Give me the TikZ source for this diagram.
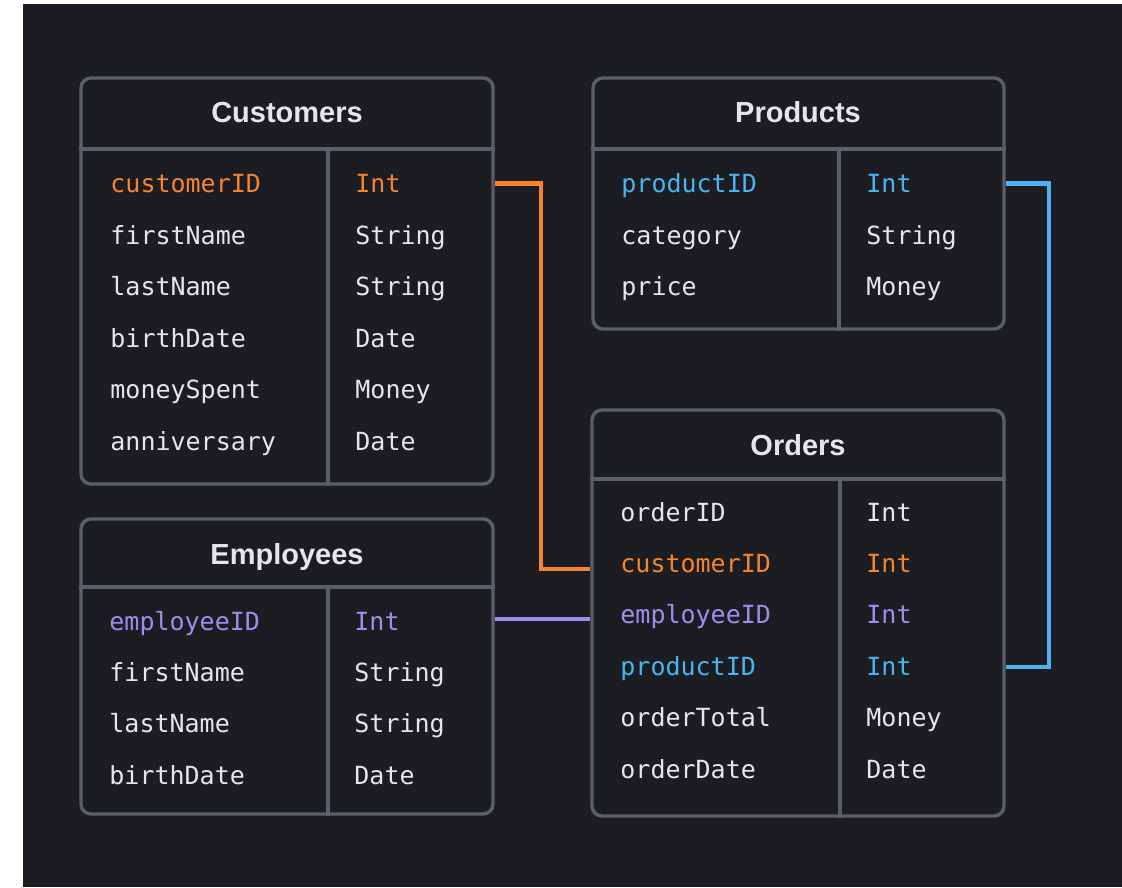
\documentclass[tikz,border=0pt]{standalone}
\usepackage{fontspec}
\setmainfont{Liberation Sans}
\setmonofont{DejaVu Sans Mono}
\usepackage{xcolor}

\definecolor{bgdark}{HTML}{1C1D22}
\definecolor{edge}{HTML}{5B5F67}
\definecolor{txt}{HTML}{E6E6E8}
\definecolor{keyorange}{HTML}{F5842D}
\definecolor{keyblue}{HTML}{4BB4EE}
\definecolor{keypurple}{HTML}{A08CEE}

\begin{document}
\begin{tikzpicture}[x=0.5pt, y=-0.5pt,
  tables/.style={draw=edge, line width=1.7pt, rounded corners=5pt, inner sep=0pt},
  rules/.style={draw=edge, line width=1.7pt},
  heads/.style={anchor=base, inner sep=0pt, text=txt, font=\fontsize{14.5}{16}\selectfont\bfseries},
  fields/.style={anchor=base west, inner sep=0pt, font=\fontsize{12.5}{14}\selectfont\ttfamily},
  links/.style={line width=2.4pt}]

 \useasboundingbox (0,0) rectangle (1122,887);
 \fill[bgdark] (23,4) rectangle (1122,887);

 % tables
 \node[tables, minimum width=206pt, minimum height=203pt] (customers) at (287,281) {};
 \node[tables, minimum width=205.5pt, minimum height=125.5pt] (products) at (798.5,203.5) {};
 \node[tables, minimum width=206pt, minimum height=203pt] (orders) at (798,613) {};
 \node[tables, minimum width=206pt, minimum height=147.5pt] (employees) at (287,666.5) {};

 \foreach \t/\hy/\cx in {customers/149/328, products/149/839, orders/479/840, employees/587/328} {
   \draw[rules] (\t.west |- 0,\hy) -- (\t.east |- 0,\hy);
   \draw[rules] (\cx,\hy) -- (\t.south -| \cx,0);
 }

 \node[heads] (cust-head) at (287,123) {Customers};
 \node[heads] (prod-head) at (798,123) {Products};
 \node[heads] (ord-head) at (798,455) {Orders};
 \node[heads] (emp-head) at (287,564) {Employees};

 % rows
 \foreach \f/\ty/\c [count=\i] in {customerID/Int/keyorange, firstName/String/txt,
     lastName/String/txt, birthDate/Date/txt, moneySpent/Money/txt, anniversary/Date/txt} {
   \node[fields, text=\c] (cust-f\i) at ({110}, {193+51.4*(\i-1)}) {\f};
   \node[fields, text=\c] (cust-t\i) at ({355}, {193+51.4*(\i-1)}) {\ty};
 }

 \foreach \f/\ty/\c [count=\i] in {productID/Int/keyblue, category/String/txt, price/Money/txt} {
   \node[fields, text=\c] (prod-f\i) at ({621}, {193+51.4*(\i-1)}) {\f};
   \node[fields, text=\c] (prod-t\i) at ({866}, {193+51.4*(\i-1)}) {\ty};
 }

 \foreach \f/\ty/\c [count=\i] in {orderID/Int/txt, customerID/Int/keyorange, employeeID/Int/keypurple,
     productID/Int/keyblue, orderTotal/Money/txt, orderDate/Date/txt} {
   \node[fields, text=\c] (ord-f\i) at ({620}, {521+51.4*(\i-1)}) {\f};
   \node[fields, text=\c] (ord-t\i) at ({866}, {521+51.4*(\i-1)}) {\ty};
 }

 \foreach \f/\ty/\c [count=\i] in {employeeID/Int/keypurple, firstName/String/txt,
     lastName/String/txt, birthDate/Date/txt} {
   \node[fields, text=\c] (emp-f\i) at ({109}, {630+51.4*(\i-1)}) {\f};
   \node[fields, text=\c] (emp-t\i) at ({354}, {630+51.4*(\i-1)}) {\ty};
 }

 % keys
 \coordinate (custbend) at (541,569);
 \coordinate (empjoin) at (543,619);
 \coordinate (prodbend) at (1049,667);

 \draw[links, keyorange] (customers.east |- cust-t1) -| (custbend) -- (orders.west |- custbend);
 \draw[links, keypurple] (employees.east |- empjoin) -- (orders.west |- empjoin);
 \draw[links, keyblue] (products.east |- prod-t1) -| (prodbend) -- (orders.east |- prodbend);

\end{tikzpicture}
\end{document}
